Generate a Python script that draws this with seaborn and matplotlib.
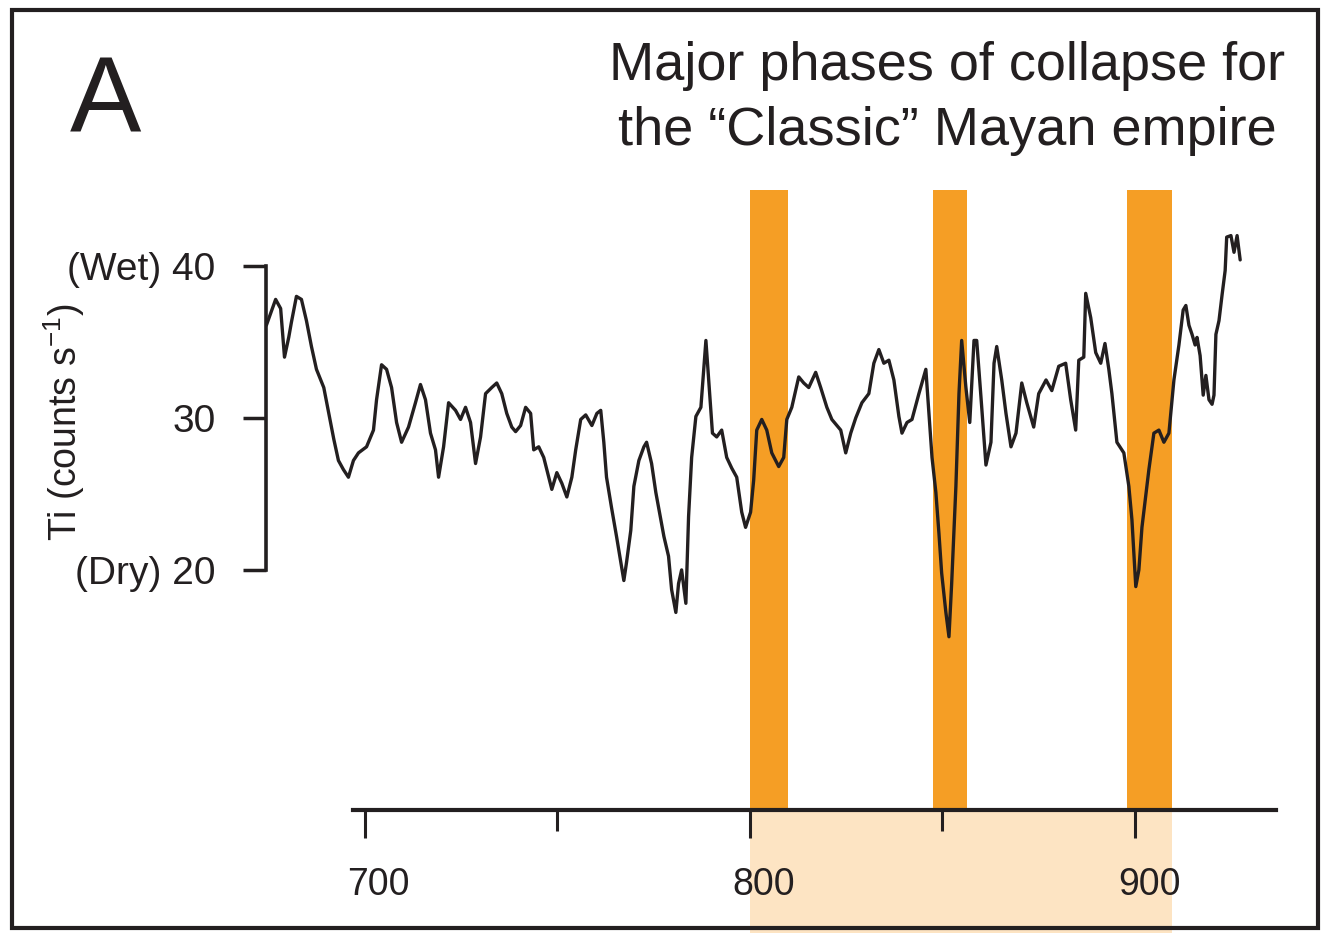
import matplotlib
matplotlib.use("Agg")
import matplotlib.pyplot as plt
import matplotlib.transforms as mtransforms
from matplotlib.patches import Rectangle
import seaborn as sns
import pandas as pd

# Ti record (counts per second) against calendar year AD
year = [
    674.5, 676.9, 678.2, 679.2, 680.3, 681.0, 682.3, 683.6, 684.9, 686.2,
    687.5, 689.4, 690.7, 692.0, 693.2, 694.5, 695.8, 697.1, 698.4, 700.5,
    702.3, 703.1, 704.4, 705.7, 707.0, 708.3, 709.6, 711.4, 713.2, 714.5,
    715.8, 717.1, 718.4, 719.2, 720.5, 721.8, 723.6, 724.9, 726.2, 727.5,
    728.8, 730.1, 731.4, 733.0, 734.3, 735.6, 736.9, 738.2, 739.2, 740.5,
    741.8, 743.1, 743.9, 745.2, 746.5, 747.8, 748.6, 749.9, 751.2, 752.5,
    753.8, 754.8, 756.1, 757.4, 759.0, 760.3, 761.3, 762.1, 762.8, 764.1,
    765.4, 766.5, 767.3, 768.0, 769.1, 769.9, 771.2, 772.5, 773.2, 774.5,
    775.6, 776.9, 777.7, 778.9, 779.7, 780.8, 781.5, 782.3, 783.4, 784.1,
    784.9, 786.0, 787.3, 788.6, 789.6, 790.3, 791.4, 792.7, 794.0, 795.3,
    796.6, 797.9, 798.9, 800.2, 801.0, 801.8, 803.1, 804.4, 805.7, 807.5,
    808.8, 809.6, 810.9, 812.7, 814.0, 815.3, 817.1, 818.4, 820.0, 821.3,
    823.6, 824.9, 826.2, 827.5, 829.1, 830.9, 832.2, 833.5, 834.8, 836.1,
    837.4, 838.7, 839.5, 840.8, 842.1, 843.9, 845.7, 846.5, 847.3, 848.3,
    849.1, 849.8, 850.9, 851.7, 852.4, 853.5, 854.3, 855.0, 856.1, 857.1,
    858.2, 858.9, 860.0, 861.3, 862.6, 863.4, 864.1, 865.4, 866.5, 867.8,
    869.1, 870.6, 871.9, 873.7, 875.0, 876.9, 878.4, 880.2, 882.0, 883.3,
    884.6, 885.4, 886.7, 887.2, 888.5, 889.8, 891.1, 892.2, 893.2, 894.0,
    895.3, 897.1, 898.4, 899.2, 900.2, 901.0, 901.8, 903.6, 904.9, 906.2,
    907.5, 908.8, 910.1, 911.4, 912.5, 913.2, 914.0, 914.8, 915.6, 916.1,
    916.9, 917.7, 918.4, 919.2, 920.0, 920.5, 921.0, 921.8, 922.6, 923.4,
    923.8, 924.9, 925.7, 926.5, 927.3,
]
ti = [
    36.1, 37.8, 37.2, 34.0, 35.3, 36.3, 38.0, 37.8, 36.4, 34.7,
    33.2, 32.0, 30.3, 28.6, 27.2, 26.6, 26.1, 27.2, 27.7, 28.1,
    29.2, 31.2, 33.5, 33.2, 32.0, 29.7, 28.4, 29.4, 31.0, 32.2,
    31.2, 29.0, 27.9, 26.1, 28.1, 31.0, 30.5, 29.9, 30.7, 29.7,
    27.0, 28.75, 31.6, 32.0, 32.3, 31.6, 30.3, 29.4, 29.1, 29.5,
    30.7, 30.3, 27.9, 28.1, 27.4, 26.1, 25.3, 26.4, 25.7, 24.8,
    26.1, 27.9, 29.9, 30.2, 29.5, 30.3, 30.5, 28.4, 26.1, 24.1,
    22.2, 20.5, 19.3, 20.5, 22.6, 25.5, 27.2, 28.1, 28.4, 27.0,
    25.1, 23.3, 22.2, 20.9, 18.7, 17.2, 19.1, 20.0, 17.8, 23.5,
    27.4, 30.1, 30.7, 35.1, 31.5, 29.0, 28.75, 29.2, 27.4, 26.7,
    26.1, 23.8, 22.8, 23.8, 25.9, 29.2, 29.9, 29.2, 27.7, 26.8,
    27.4, 29.9, 30.7, 32.7, 32.3, 32.0, 33.0, 32.0, 30.7, 29.9,
    29.2, 27.7, 29.0, 30.0, 31.0, 31.6, 33.6, 34.5, 33.6, 33.8,
    32.5, 30.1, 29.0, 29.7, 29.9, 31.6, 33.2, 30.3, 27.4, 25.1,
    22.4, 19.8, 17.2, 15.6, 19.1, 25.5, 31.6, 35.1, 32.0, 29.7,
    35.1, 35.1, 31.4, 26.9, 28.4, 33.6, 34.7, 32.5, 30.3, 28.1,
    29.0, 32.3, 31.0, 29.4, 31.6, 32.5, 31.8, 33.4, 33.6, 31.2,
    29.2, 33.8, 34.0, 38.2, 36.6, 34.3, 33.6, 34.9, 33.2, 31.6,
    28.4, 27.7, 25.5, 23.3, 18.9, 20.0, 22.8, 26.6, 29.0, 29.2,
    28.4, 29.0, 32.5, 34.8, 37.1, 37.4, 36.1, 35.5, 34.8, 35.3,
    34.1, 31.5, 32.8, 31.2, 30.9, 31.5, 35.5, 36.4, 38.1, 39.7,
    41.9, 42.0, 40.9, 42.0, 40.4,
]

# Major collapse phases (years AD)
collapse_start = [800, 847.5, 898]
collapse_end = [810, 856.5, 909.5]

x_major = [700, 800, 900]
x_minor = [750, 850]
y_ticks = [20, 30, 40]
y_ticklabels = ["(Dry) 20", "30", "(Wet) 40"]
title_lines = ["Major phases of collapse for", "the \u201cClassic\u201d Mayan empire"]
panel_label = "A"
y_title = r"Ti (counts s$^{\mathregular{-1}}$)"

sns.set_style("ticks")
plt.rcParams["font.family"] = ["Liberation Sans", "DejaVu Sans"]

ink = "#231F20"
orange = "#F59E25"
peach = "#FDE4C3"

W, H = 1334, 933
fig = plt.figure(figsize=(W / 100, H / 100), dpi=100)
ax = fig.add_axes([266 / W, 1 - 810 / H, (1276 - 266) / W, (810 - 190) / H])
ax.set_xlim(674.4, 936.6)
ax.set_ylim(4.2, 45.0)
ax.set_facecolor("white")

# collapse bars and the shaded period under the time axis
for s, e in zip(collapse_start, collapse_end):
    ax.axvspan(s, e, color=orange, lw=0, zorder=1)
band = ax.axvspan(collapse_start[0], collapse_end[-1], ymin=-0.3, ymax=0,
                  color=peach, lw=0, zorder=0)
band.set_clip_on(False)

df = pd.DataFrame({"year": year, "ti": ti})
sns.lineplot(data=df, x="year", y="ti", ax=ax, color=ink, lw=2.4,
             estimator=None, sort=False, zorder=3)

ax.spines["top"].set_visible(False)
ax.spines["right"].set_visible(False)
ax.spines["left"].set_bounds(20, 40)
ax.spines["left"].set_linewidth(2.6)
ax.spines["left"].set_color(ink)
ax.spines["bottom"].set_bounds(697.0, 936.6)
ax.spines["bottom"].set_linewidth(3.0)
ax.spines["bottom"].set_color(ink)

ax.set_xticks(x_major)
ax.set_xticks(x_minor, minor=True)
ax.set_yticks(y_ticks)
ax.set_yticklabels(y_ticklabels)
ax.set_xlabel("")
ax.set_ylabel("")

ax.tick_params(axis="x", which="major", length=20, width=2.2, pad=21,
               labelsize=27, color=ink, labelcolor=ink, bottom=True)
ax.tick_params(axis="x", which="minor", length=15, width=2.2, color=ink,
               bottom=True)
ax.tick_params(axis="y", length=16.5, width=2.5, pad=20, labelsize=28,
               color=ink, labelcolor=ink, left=True)

shift = mtransforms.ScaledTranslation(14 / 100, 0, fig.dpi_scale_trans)
for lab in ax.get_xticklabels():
    lab.set_transform(lab.get_transform() + shift)

fig.text(64 / W, 1 - 422 / H, y_title, rotation=90, ha="center", va="center",
         fontsize=27, color=ink)

fig.text(70 / W, 1 - 132 / H, panel_label, fontsize=77, ha="left",
         va="baseline", color=ink)
fig.text(947 / W, 1 - 80 / H, title_lines[0], fontsize=39, ha="center",
         va="baseline", color=ink)
fig.text(947 / W, 1 - 145 / H, title_lines[1], fontsize=39, ha="center",
         va="baseline", color=ink)

# frame around the panel
fig.add_artist(Rectangle((12 / W, 1 - 928 / H), (1318 - 12) / W, (928 - 10) / H,
                         transform=fig.transFigure, fill=False, lw=3, ec=ink,
                         zorder=5))

fig.savefig("out.png", dpi=100)
